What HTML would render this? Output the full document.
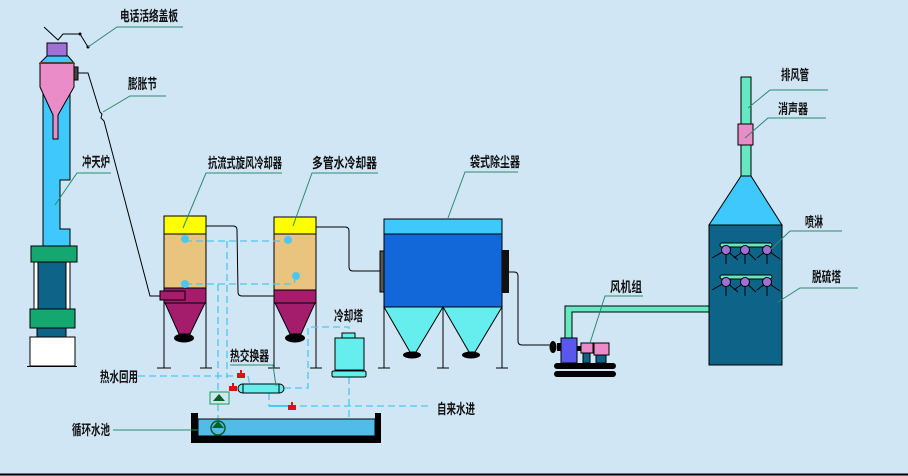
<!DOCTYPE html>
<html><head><meta charset="utf-8"><style>
html,body{margin:0;padding:0;background:#d0e6f5}
svg{display:block}
text{font-family:"Liberation Sans","Noto Sans CJK SC",sans-serif;font-size:14px;font-weight:bold;fill:#111}
</style></head><body>
<svg width="908" height="476" viewBox="0 0 908 476" xmlns="http://www.w3.org/2000/svg">
<rect width="908" height="476" fill="#d0e6f5"/>
<line x1="0" y1="474.5" x2="908" y2="474.5" stroke="#000" stroke-width="2"/>

<path d="M43,63 L70,63 L70,180 L60,180 L60,229 L70,229 L70,246 L43,246 Z" fill="#3ec8fb" stroke="#000"/>
<path d="M47,56 L68,56 L74,63 L40,63 Z" fill="#3ec8fb" stroke="#000"/>
<rect x="47" y="43" width="20" height="13" fill="#a070d8" stroke="#000"/>
<path d="M40,63 L74,63 L74,87 L58,115 L58,139 L53,139 L53,115 L40,87 Z" fill="#ea8cc8" stroke="#000"/>
<line x1="40" y1="63" x2="74" y2="63" stroke="#444" stroke-width="2"/>
<rect x="74" y="67" width="4" height="13" fill="#444" stroke="#000"/>
<rect x="31" y="246" width="46" height="16" fill="#14a870" stroke="#000"/>
<rect x="34" y="262" width="36" height="47" fill="#fff" stroke="#000"/>
<rect x="38" y="262" width="28" height="47" fill="#0e6488" stroke="#000"/>
<rect x="30" y="309" width="45" height="19" fill="#14a870" stroke="#000"/>
<rect x="37" y="328" width="29" height="9" fill="#0e6488" stroke="#000"/>
<rect x="30" y="337" width="45" height="29" fill="#fff" stroke="#000"/>
<line x1="27" y1="366.5" x2="77" y2="366.5" stroke="#000"/>
<polyline points="44,27 58,40 63,34 80,34 88,47" fill="none" stroke="#000"/>
<circle cx="80" cy="34" r="1.5"/><circle cx="88" cy="47" r="1.5"/>
<polyline points="88,47 117,27 183,27" fill="none" stroke="#2a8a70"/>
<text x="120" y="21" textLength="58" lengthAdjust="spacingAndGlyphs">电话活络盖板</text>
<polyline points="78,73 88,73 100,112 102,114 101,118 104,121 150,296 160,296" fill="none" stroke="#000"/>
<polyline points="103,112 130,96 166,96" fill="none" stroke="#2a8a70"/>
<text x="128" y="89" textLength="29" lengthAdjust="spacingAndGlyphs">膨胀节</text>
<polyline points="55,205 77,173 111,173" fill="none" stroke="#2a8a70"/>
<text x="82" y="167" textLength="28" lengthAdjust="spacingAndGlyphs">冲天炉</text>

<rect x="164" y="216" width="42" height="18" fill="#ffff00" stroke="#000"/>
<rect x="164" y="234" width="42" height="54" fill="#e8c47e" stroke="#000"/>
<rect x="164" y="288" width="42" height="15" fill="#a41c6c" stroke="#000"/>
<rect x="160" y="291" width="25" height="9" fill="#a41c6c" stroke="#000"/>
<path d="M165,303 L205,303 L190,334 L179,334 Z" fill="#a41c6c" stroke="#000"/>
<ellipse cx="184" cy="338" rx="10" ry="4.5"/>
<line x1="164" y1="303" x2="164" y2="368" stroke="#000"/><line x1="206" y1="303" x2="206" y2="368" stroke="#000"/>
<line x1="157" y1="368" x2="171" y2="368" stroke="#000"/><line x1="200" y1="368" x2="212" y2="368" stroke="#000"/>
<rect x="274" y="217" width="42" height="17" fill="#ffff00" stroke="#000"/>
<rect x="274" y="234" width="42" height="56" fill="#e8c47e" stroke="#000"/>
<rect x="274" y="290" width="42" height="13" fill="#a41c6c" stroke="#000"/>
<path d="M275,303 L315,303 L301,334 L290,334 Z" fill="#a41c6c" stroke="#000"/>
<ellipse cx="295" cy="338" rx="10" ry="4.5"/>
<line x1="274" y1="303" x2="274" y2="368" stroke="#000"/><line x1="316" y1="303" x2="316" y2="368" stroke="#000"/>
<line x1="268" y1="368" x2="280" y2="368" stroke="#000"/><line x1="310" y1="368" x2="322" y2="368" stroke="#000"/>
<path d="M206,226 L233,226 Q237,226 237,230 L238,292 Q238,296 242,296 L274,296" fill="none" stroke="#000"/>
<path d="M316,227 L345,227 Q349,227 349,231 L349,267 Q349,271 353,271 L382,271" fill="none" stroke="#000"/>
<polyline points="183,228 206,173 282,173" fill="none" stroke="#2a8a70"/>
<text x="208" y="168" textLength="74" lengthAdjust="spacingAndGlyphs">抗流式旋风冷却器</text>
<polyline points="293,226 312,173 378,173" fill="none" stroke="#2a8a70"/>
<text x="312" y="168" textLength="65" lengthAdjust="spacingAndGlyphs">多管水冷却器</text>

<rect x="384" y="219" width="118" height="15" fill="#3ec8fb" stroke="#000"/>
<rect x="384" y="234" width="118" height="73" fill="#1268d8" stroke="#000"/>
<rect x="380" y="251" width="4" height="41" fill="#555" stroke="#000"/>
<rect x="502" y="250" width="7" height="43" fill="#111"/>
<path d="M384,307 L443,307 L416,352 L410,352 Z" fill="#66eeee" stroke="#000"/>
<path d="M443,307 L502,307 L475,352 L469,352 Z" fill="#66eeee" stroke="#000"/>
<ellipse cx="412" cy="355" rx="9" ry="3.5"/><ellipse cx="471" cy="355" rx="9" ry="3.5"/>
<line x1="384" y1="307" x2="384" y2="368" stroke="#000"/><line x1="443" y1="307" x2="443" y2="368" stroke="#000"/><line x1="502" y1="307" x2="502" y2="368" stroke="#000"/>
<line x1="378" y1="368" x2="390" y2="368" stroke="#000"/><line x1="437" y1="368" x2="449" y2="368" stroke="#000"/><line x1="496" y1="368" x2="508" y2="368" stroke="#000"/>
<path d="M509,272 L514,272 Q518,272 518,276 L518,341 Q518,345 522,345 L555,345" fill="none" stroke="#000"/>
<polyline points="448,218 465,172 518,172" fill="none" stroke="#2a8a70"/>
<text x="470" y="167" textLength="50" lengthAdjust="spacingAndGlyphs">袋式除尘器</text>

<path d="M565,339 L565,306 L709,306 L709,312 L572,312 L572,339 Z" fill="#66e8c0" stroke="#000"/>
<ellipse cx="553" cy="347" rx="3.5" ry="6"/>
<rect x="557" y="343" width="5" height="8" fill="#000"/>
<rect x="561" y="338" width="16" height="25" fill="#5858ec" stroke="#000"/>
<rect x="577" y="346" width="4" height="5" fill="#000"/>
<rect x="581" y="343" width="12" height="10" fill="#ea8cc8" stroke="#000"/>
<rect x="583" y="353" width="7" height="10" fill="#0e6488" stroke="#000"/>
<rect x="594" y="343" width="15" height="12" fill="#ea8cc8" stroke="#000"/>
<rect x="596" y="355" width="10" height="8" fill="#0e6488" stroke="#000"/>
<rect x="554" y="363" width="62" height="6" rx="3" fill="#000"/>
<rect x="554" y="371" width="62" height="6" rx="3" fill="#000"/>
<polyline points="590,343 605,296 643,296" fill="none" stroke="#2a8a70"/>
<text x="610" y="292" textLength="32" lengthAdjust="spacingAndGlyphs">风机组</text>

<rect x="741" y="77" width="10" height="99" fill="#66e8c0" stroke="#000"/>
<rect x="738" y="124" width="15" height="21" fill="#ea8cc8" stroke="#000"/>
<path d="M741,176 L751,176 L782,225 L709,225 Z" fill="#3ec8fb" stroke="#000"/>
<rect x="709" y="225" width="73" height="140" fill="#0e6488" stroke="#000"/>
<g stroke="#000" fill="none">
<path d="M712,258 L726,250 L738,260 M726,250 L726,264 M734,258 L745,250 L756,260 M745,250 L745,264 M757,258 L767,250 L780,259 M767,250 L767,264"/>
<path d="M712,290 L726,282 L738,292 M726,282 L726,296 M734,290 L745,282 L756,292 M745,282 L745,296 M757,290 L767,282 L780,291 M767,282 L767,296"/>
</g>
<rect x="720" y="243" width="52" height="4" rx="2" fill="#66e8c0" stroke="#000"/>
<rect x="720" y="275" width="52" height="4" rx="2" fill="#66e8c0" stroke="#000"/>
<g fill="#a070d8" stroke="#000">
<circle cx="726" cy="250" r="4.5"/><circle cx="745" cy="250" r="4.5"/><circle cx="767" cy="250" r="4.5"/>
<circle cx="726" cy="282" r="4.5"/><circle cx="745" cy="282" r="4.5"/><circle cx="767" cy="282" r="4.5"/>
</g>
<g fill="none" stroke="#2a8a70">
<polyline points="748,108 770,90 828,90"/>
<polyline points="745,138 768,118 826,118"/>
<polyline points="770,250 790,231 842,231"/>
<polyline points="778,302 800,288 858,288"/>
</g>
<text x="781" y="80" textLength="28" lengthAdjust="spacingAndGlyphs">排风管</text>
<text x="778" y="114" textLength="30" lengthAdjust="spacingAndGlyphs">消声器</text>
<text x="805" y="227" textLength="18" lengthAdjust="spacingAndGlyphs">喷淋</text>
<text x="812" y="282" textLength="29" lengthAdjust="spacingAndGlyphs">脱硫塔</text>

<g fill="none" stroke="#4cc8f0" stroke-width="1.3" stroke-dasharray="7,4">
<polyline points="185,241 288,241"/>
<polyline points="185,284 294,284 296,276"/>
<polyline points="227,241 227,378"/>
<polyline points="218,284 218,392"/>
<polyline points="138,376 248,376 250,386"/>
<polyline points="284,388 308,388 308,327 349,327 349,333"/>
<polyline points="349,377 349,419"/>
<polyline points="269,393 269,406 432,406"/>
<polyline points="218,404 218,421"/>
</g>
<g fill="#4cc8f0">
<circle cx="185" cy="239" r="4"/><circle cx="185" cy="284" r="4"/>
<circle cx="288" cy="240" r="4"/><circle cx="296" cy="276" r="4"/>
</g>
<line x1="269" y1="406" x2="288" y2="406" stroke="#4cc8f0" stroke-width="2"/>
<g fill="#e01010">
<rect x="237" y="373" width="8" height="5"/><rect x="240" y="370" width="2" height="3"/>
<rect x="229" y="386" width="8" height="5"/><rect x="232" y="383" width="2" height="3"/>
<rect x="288" y="405" width="8" height="5"/><rect x="291" y="402" width="2" height="3"/>
</g>
<rect x="238" y="384" width="46" height="9" rx="4.5" fill="#66eeee" stroke="#000"/>
<line x1="243" y1="384" x2="243" y2="393" stroke="#000"/><line x1="279" y1="384" x2="279" y2="393" stroke="#000"/>
<polyline points="230,365 273,365 276,386" fill="none" stroke="#2a8a70"/>
<text x="230" y="361" textLength="39" lengthAdjust="spacingAndGlyphs">热交换器</text>
<rect x="342" y="333" width="13" height="5" fill="#66eeee" stroke="#000"/>
<rect x="335" y="338" width="29" height="32" fill="#66eeee" stroke="#000"/>
<rect x="332" y="371" width="34" height="6" rx="1.5" fill="#66eeee" stroke="#000"/>
<text x="334" y="321" textLength="29" lengthAdjust="spacingAndGlyphs">冷却塔</text>
<text x="100" y="382" textLength="38" lengthAdjust="spacingAndGlyphs">热水回用</text>
<text x="437" y="414" textLength="38" lengthAdjust="spacingAndGlyphs">自来水进</text>
<rect x="210" y="392" width="19" height="12" fill="#d0e6f5" stroke="#14a050"/>
<path d="M213,401 L219,394 L225,401 Z" fill="#0a6020"/>
<path d="M191,413 L198,413 L198,436 L375,436 L375,413 L381,413 L381,443 L191,443 Z" fill="#000"/>
<rect x="198" y="419" width="177" height="17" fill="#52bce8" stroke="#000"/>
<circle cx="218" cy="428" r="7" fill="#52bce8" stroke="#0a6020" stroke-width="1.5"/>
<path d="M212,428 L224,428 L218,421 Z" fill="#0a6020"/>
<line x1="113" y1="430" x2="198" y2="430" stroke="#2a8a70"/>
<text x="72" y="435" textLength="38" lengthAdjust="spacingAndGlyphs">循环水池</text>
</svg>
</body></html>
